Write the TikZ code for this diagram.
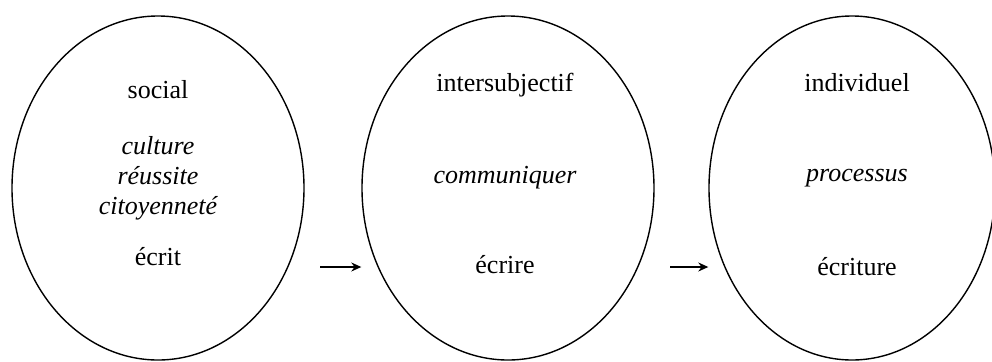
\documentclass[tikz,border=0pt]{standalone}
\usepackage{fontspec}
\setmainfont{Liberation Serif}
\usetikzlibrary{arrows.meta,positioning,shapes.geometric}

\begin{document}
\begin{tikzpicture}[x=0.5pt,y=0.5pt,sphere/.style={draw,ellipse,line width=0.7pt,inner sep=0pt,minimum width=#1,minimum height=172pt},label/.style={font=\fontsize{13}{15}\selectfont,align=center,inner sep=0pt},flow/.style={-{Stealth[length=5pt,width=4.5pt]},line width=0.6pt}]
\useasboundingbox (0,0) rectangle (992,361);
\node[sphere=146pt] (e1) at (158,173) {};
\node[sphere=146pt] (e2) at (508,173) {};
\node[sphere=143pt] (e3) at (852,173) {};
\node[label] (t1) at (158,271) {social};
\node[label] (m1) at (158,183) {\itshape culture\\\itshape réussite\\\itshape citoyenneté};
\node[label] (b1) at (158,104) {écrit};
\node[label] (t2) at (505,276) {intersubjectif};
\node[label] (m2) at (505,183) {\itshape communiquer};
\node[label] (b2) at (505,96) {écrire};
\node[label] (t3) at (857,278) {individuel};
\node[label] (m3) at (857,183) {\itshape processus};
\node[label] (b3) at (857,94) {écriture};
\coordinate (a1) at (320,94);
\coordinate (a2) at (670,94);
\draw[flow] (a1) -- (a1 -| e2.west);
\draw[flow] (a2) -- (a2 -| e3.west);
\end{tikzpicture}
\end{document}
